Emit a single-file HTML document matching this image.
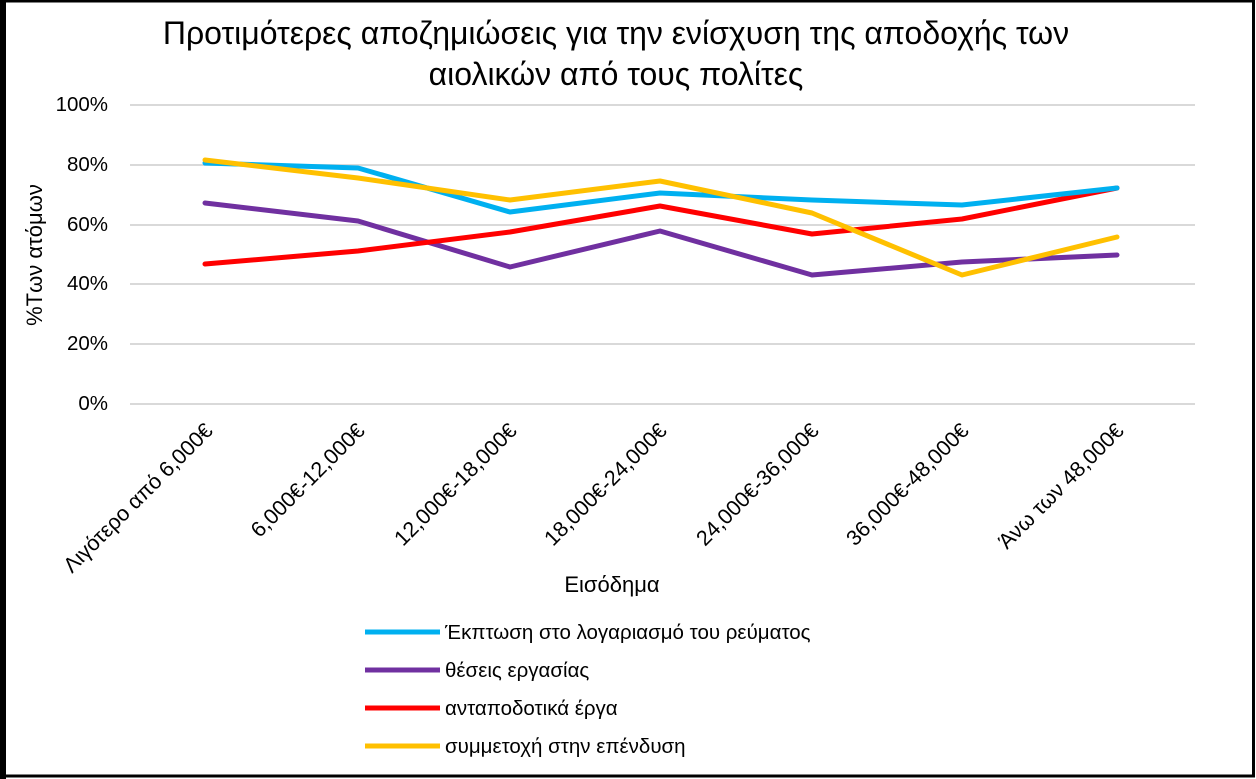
<!DOCTYPE html>
<html><head><meta charset="utf-8"><style>
html,body{margin:0;padding:0;background:#fff}
svg{display:block}
text{font-family:"Liberation Sans","DejaVu Sans",sans-serif;fill:#000}
</style></head><body>
<svg width="1256" height="779" viewBox="0 0 1256 779" xmlns="http://www.w3.org/2000/svg">
<rect x="2.5" y="1" width="1251" height="775" fill="#fff" stroke="#000" stroke-width="3"/>
<rect x="0" y="0" width="6" height="779" fill="#000"/>
<text x="616" y="44" font-size="32" text-anchor="middle">Προτιμότερες αποζημιώσεις για την ενίσχυση της αποδοχής των</text>
<text x="616" y="85" font-size="32" text-anchor="middle">αιολικών από τους πολίτες</text>
<g stroke="#d9d9d9" stroke-width="2">
<line x1="130" x2="1195" y1="105" y2="105"/><line x1="130" x2="1195" y1="165" y2="165"/>
<line x1="130" x2="1195" y1="225" y2="225"/><line x1="130" x2="1195" y1="284" y2="284"/>
<line x1="130" x2="1195" y1="344" y2="344"/><line x1="130" x2="1195" y1="404" y2="404"/>
</g>
<g font-size="20.5" text-anchor="end">
<text x="108" y="111">100%</text><text x="108" y="171">80%</text><text x="108" y="231">60%</text>
<text x="108" y="290">40%</text><text x="108" y="350">20%</text><text x="108" y="410">0%</text>
</g>
<text transform="translate(42,255) rotate(-90)" font-size="22" text-anchor="middle">%Των ατόμων</text>
<g font-size="21.5" text-anchor="end">
<text transform="translate(214,432) rotate(-45)">Λιγότερο από 6,000€</text>
<text transform="translate(366,432) rotate(-45)">6,000€-12,000€</text>
<text transform="translate(518,432) rotate(-45)">12,000€-18,000€</text>
<text transform="translate(668,432) rotate(-45)">18,000€-24,000€</text>
<text transform="translate(820,432) rotate(-45)">24,000€-36,000€</text>
<text transform="translate(970,432) rotate(-45)">36,000€-48,000€</text>
<text transform="translate(1125,432) rotate(-45)">Άνω των 48,000€</text>
</g>
<text x="612" y="592" font-size="22" text-anchor="middle">Εισόδημα</text>
<g fill="none" stroke-width="5" stroke-linejoin="round" stroke-linecap="round">
<polyline stroke="#7030a0" points="205,203 358,221 510,267 660,231 812,275 962,262 1117,255"/>
<polyline stroke="#ff0000" points="205,264 358,251 510,232 660,206 812,234 962,219 1117,188"/>
<polyline stroke="#00b0f0" points="205,163 358,168 510,212 660,193 812,200 962,205 1117,188"/>
<polyline stroke="#ffc000" points="205,160 358,178 510,200 660,181 812,213 962,275 1117,237"/>
</g>
<g stroke-width="5">
<line x1="365" x2="440" y1="632" y2="632" stroke="#00b0f0"/>
<line x1="365" x2="440" y1="670" y2="670" stroke="#7030a0"/>
<line x1="365" x2="440" y1="708" y2="708" stroke="#ff0000"/>
<line x1="365" x2="440" y1="746" y2="746" stroke="#ffc000"/>
</g>
<g font-size="20.5">
<text x="445" y="639">Έκπτωση στο λογαριασμό του ρεύματος</text>
<text x="445" y="677">θέσεις εργασίας</text>
<text x="445" y="715">ανταποδοτικά έργα</text>
<text x="445" y="753">συμμετοχή στην επένδυση</text>
</g>
</svg>
</body></html>
